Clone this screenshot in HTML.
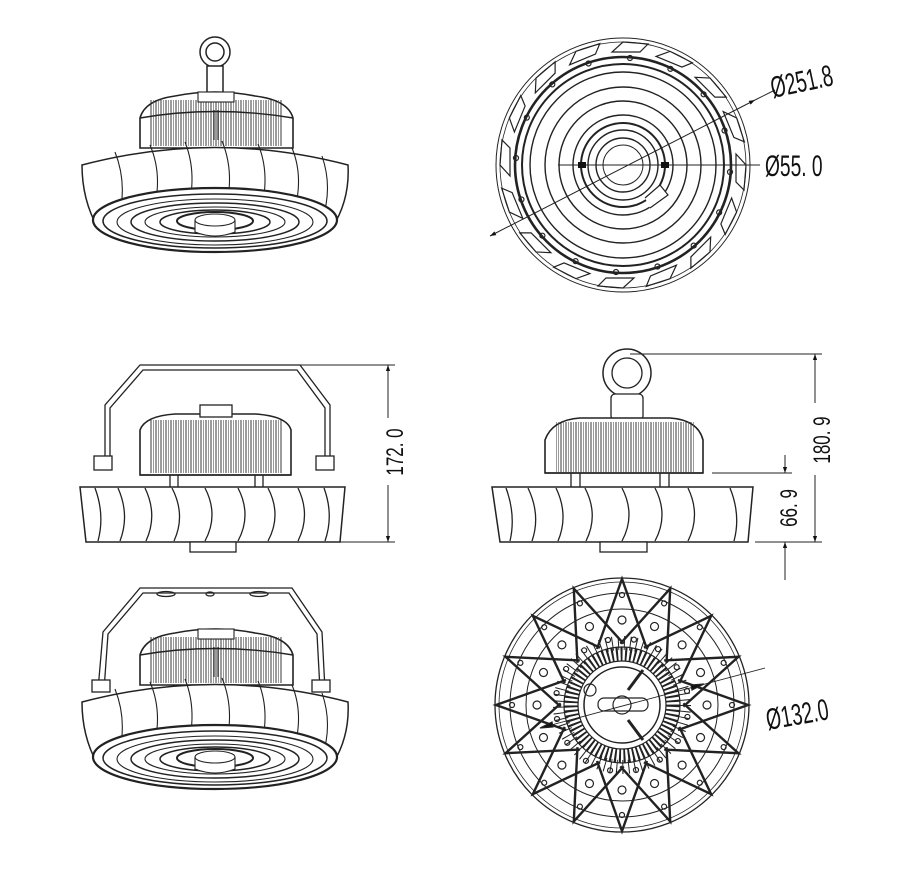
<!DOCTYPE html>
<html><head><meta charset="utf-8"><style>
html,body{margin:0;padding:0;background:#fff;}
svg{display:block;}
text{font-family:"Liberation Sans",sans-serif;fill:#111;}
</style></head><body>
<svg width="900" height="886" viewBox="0 0 900 886" xmlns="http://www.w3.org/2000/svg">
<defs>
<pattern id="fins" width="5" height="10" patternUnits="userSpaceOnUse">
<line x1="1" y1="0" x2="1" y2="10" stroke="#222" stroke-width="0.9"/>
<line x1="3.5" y1="0" x2="3.5" y2="10" stroke="#555" stroke-width="0.6"/>
</pattern>
<marker id="ar" viewBox="0 0 10 10" refX="10" refY="5" markerWidth="9" markerHeight="6" orient="auto-start-reverse" markerUnits="userSpaceOnUse"><path d="M0,1.5 L10,5 L0,8.5z" fill="#111"/></marker>

<g id="persp" fill="none" stroke="#222" stroke-width="1.1">
  <path d="M140,148 L140,118 Q145,100 175,96 Q215,88 255,96 Q288,100 293,118 L293,148 Z" fill="#fff" stroke-width="1.6"/>
  <rect x="150" y="100" width="133" height="46" fill="url(#fins)" stroke="none"/>
  <path d="M140,118 Q215,105 293,118" stroke-width="1.4"/>
  <rect x="198" y="92" width="36" height="10" fill="#fff"/>
  <line x1="214" y1="110" x2="214" y2="140"/><line x1="218" y1="110" x2="218" y2="140"/>
  <path d="M82,165 Q215,130 348,165 Q350,200 332,228 Q215,258 98,228 Q82,200 82,165 Z" fill="#fff" stroke-width="1.5"/>
  <path d="M115,152 Q128,185 118,220"/><path d="M150,145 Q165,180 150,222"/><path d="M185,142 Q200,180 183,225"/>
  <path d="M222,141 Q238,180 220,227"/><path d="M258,144 Q273,180 256,226"/><path d="M292,148 Q306,182 290,224"/>
  <path d="M322,156 Q333,188 322,220"/>
  <ellipse cx="215" cy="220" rx="122" ry="32" fill="#fff" stroke-width="2.2"/>
  <ellipse cx="215" cy="221" rx="112" ry="27" stroke-width="1.5"/>
  <ellipse cx="215" cy="222" rx="98" ry="23"/>
  <ellipse cx="215" cy="222" rx="84" ry="19" stroke-width="1.5"/>
  <ellipse cx="215" cy="222" rx="70" ry="15"/>
  <ellipse cx="215" cy="222" rx="55" ry="12" stroke-width="1.5"/>
  <ellipse cx="215" cy="221" rx="38" ry="9" stroke-width="2"/>
  <path d="M195,220 L195,232 Q215,240 235,232 L235,220" fill="#fff"/>
  <ellipse cx="215" cy="220" rx="20" ry="6" fill="#fff"/>
</g>
</defs>

<g fill="none" stroke="#222" stroke-width="1.5">
  <circle cx="215" cy="52" r="15"/><circle cx="215" cy="52" r="9"/>
  <rect x="207" y="66" width="16" height="28" fill="#fff"/>
</g>
<use href="#persp"/>

<g fill="none" stroke="#222" stroke-width="1.3">
  <path d="M98,690 L103,632 L140,588 L292,588 L322,632 L325,690"/>
  <path d="M104,690 L108,634 L143,593 L289,593 L317,634 L320,690"/>
  <ellipse cx="166" cy="594" rx="9" ry="2.5"/><ellipse cx="210" cy="594" rx="4" ry="2"/><ellipse cx="259" cy="594" rx="9" ry="2.5"/>
  <rect x="92" y="680" width="18" height="12" fill="#fff"/><rect x="312" y="680" width="18" height="12" fill="#fff"/>
</g>
<use href="#persp" transform="translate(0,537)"/>

<g fill="none" stroke="#222" stroke-width="1.3">
  <path d="M105,470 L105,405 L140,365 L300,365 L330,405 L330,470"/>
  <path d="M110,470 L110,408 L143,370 L297,370 L325,408 L325,470"/>
  <rect x="94" y="456" width="18" height="14" fill="#fff"/><rect x="316" y="456" width="18" height="14" fill="#fff"/>
  <path d="M140,475 L140,430 Q145,416 175,414 L255,414 Q287,416 291,430 L291,475 Z" fill="#fff" stroke-width="1.6"/>
  <rect x="150" y="420" width="132" height="53" fill="url(#fins)" stroke="none"/>
  <rect x="200" y="405" width="32" height="12" fill="#fff"/>
  <line x1="140" y1="475" x2="291" y2="475" stroke-width="1.6"/>
  <line x1="170" y1="475" x2="170" y2="487"/><line x1="178" y1="475" x2="178" y2="487"/>
  <line x1="255" y1="475" x2="255" y2="487"/><line x1="263" y1="475" x2="263" y2="487"/>
  <path d="M80,487 L345,487 L340,542 L86,542 Z" fill="#fff" stroke-width="1.5"/>
  <path d="M95,488 Q105,515 98,541"/><path d="M118,488 Q130,515 120,541"/><path d="M145,488 Q158,515 146,541"/>
  <path d="M172,488 Q186,515 174,541"/><path d="M205,488 Q219,515 205,541"/><path d="M238,488 Q252,515 238,541"/>
  <path d="M268,488 Q282,515 268,541"/><path d="M298,488 Q311,515 298,541"/><path d="M324,488 Q334,515 325,541"/>
  <rect x="190" y="542" width="46" height="10" fill="#fff"/>
  <line x1="300" y1="365" x2="395" y2="365" stroke-width="0.9"/>
  <line x1="340" y1="542" x2="395" y2="542" stroke-width="0.9"/>
  <line x1="388" y1="365" x2="388" y2="418" stroke-width="1" marker-start="url(#ar)"/>
  <line x1="388" y1="485" x2="388" y2="542" stroke-width="1" marker-end="url(#ar)"/>
</g>
<text transform="translate(403,452) rotate(-90) scale(0.85,1.2)" font-size="20" text-anchor="middle">172. 0</text>

<g fill="none" stroke="#222" stroke-width="1.3">
  <circle cx="627" cy="373" r="24" stroke-width="1.5"/><circle cx="627" cy="373" r="15"/>
  <rect x="611" y="394" width="32" height="26" rx="4" fill="#fff"/>
  <path d="M545,473 L545,440 Q552,420 580,418 L670,418 Q698,420 703,440 L703,473 Z" fill="#fff" stroke-width="1.6"/>
  <rect x="556" y="422" width="138" height="50" fill="url(#fins)" stroke="none"/>
  <line x1="545" y1="473" x2="703" y2="473" stroke-width="1.6"/>
  <line x1="571" y1="473" x2="571" y2="487"/><line x1="580" y1="473" x2="580" y2="487"/>
  <line x1="660" y1="473" x2="660" y2="487"/><line x1="669" y1="473" x2="669" y2="487"/>
  <path d="M492,487 L753,487 L748,542 L500,542 Z" fill="#fff" stroke-width="1.5"/>
  <path d="M506,488 Q516,515 510,541"/><path d="M528,488 Q541,515 532,541"/><path d="M556,488 Q569,515 558,541"/>
  <path d="M585,488 Q599,515 586,541"/><path d="M622,488 Q636,515 622,541"/><path d="M655,488 Q669,515 655,541"/>
  <path d="M688,488 Q701,515 688,541"/><path d="M730,488 Q741,515 734,541"/>
  <rect x="600" y="542" width="47" height="10" fill="#fff"/>
  <line x1="630" y1="354" x2="822" y2="354" stroke-width="0.9"/>
  <line x1="712" y1="473" x2="792" y2="473" stroke-width="0.9"/>
  <line x1="755" y1="542" x2="822" y2="542" stroke-width="0.9"/>
  <line x1="815" y1="354" x2="815" y2="403" stroke-width="1" marker-start="url(#ar)"/>
  <line x1="815" y1="475" x2="815" y2="542" stroke-width="1" marker-end="url(#ar)"/>
  <line x1="785" y1="455" x2="785" y2="473" stroke-width="1" marker-end="url(#ar)"/>
  <line x1="785" y1="580" x2="785" y2="542" stroke-width="1" marker-end="url(#ar)"/>
</g>
<text transform="translate(830,440) rotate(-90) scale(0.85,1.2)" font-size="20" text-anchor="middle">180. 9</text>
<text transform="translate(797,508) rotate(-90) scale(0.85,1.2)" font-size="20" text-anchor="middle">66. 9</text>

<g fill="none" stroke="#222" stroke-width="1.2">
  <circle cx="623" cy="165" r="127" stroke-width="1"/>
  <circle cx="623" cy="165" r="123" stroke-width="0.8"/>
  <g id="seg"><path d="M623,42 L648,44 L640,52 L612,52 Z" stroke-width="1.2"/><circle cx="630" cy="58" r="2.5"/></g>
  <use href="#seg" transform="rotate(22.5 623 165)"/><use href="#seg" transform="rotate(45 623 165)"/><use href="#seg" transform="rotate(67.5 623 165)"/>
  <use href="#seg" transform="rotate(90 623 165)"/><use href="#seg" transform="rotate(112.5 623 165)"/><use href="#seg" transform="rotate(135 623 165)"/>
  <use href="#seg" transform="rotate(157.5 623 165)"/><use href="#seg" transform="rotate(180 623 165)"/><use href="#seg" transform="rotate(202.5 623 165)"/>
  <use href="#seg" transform="rotate(225 623 165)"/><use href="#seg" transform="rotate(247.5 623 165)"/><use href="#seg" transform="rotate(270 623 165)"/>
  <use href="#seg" transform="rotate(292.5 623 165)"/><use href="#seg" transform="rotate(315 623 165)"/><use href="#seg" transform="rotate(337.5 623 165)"/>
  <circle cx="623" cy="165" r="108" stroke-width="2.6"/>
  <circle cx="623" cy="165" r="101" stroke-width="2"/>
  <circle cx="623" cy="165" r="93" stroke-width="1.4"/>
  <circle cx="623" cy="165" r="78" stroke-width="1.4"/>
  <circle cx="623" cy="165" r="64" stroke-width="1.4"/>
  <circle cx="623" cy="165" r="50" stroke-width="1.4"/>
  <circle cx="623" cy="165" r="42" stroke-width="2"/>
  <circle cx="623" cy="165" r="35" stroke-width="1.4"/>
  <circle cx="623" cy="165" r="27" stroke-width="1.4"/>
  <circle cx="623" cy="165" r="20" stroke-width="1"/>
  <path d="M645,198 L660,185 L668,195 L650,208" fill="#fff"/>
  <line x1="558" y1="165" x2="760" y2="165" stroke-width="1"/>
  <rect x="578" y="162" width="8" height="6" fill="#111" stroke="none"/><rect x="661" y="162" width="8" height="6" fill="#111" stroke="none"/>
  <line x1="490" y1="236" x2="755" y2="100" stroke-width="1" marker-start="url(#ar)" marker-end="url(#ar)"/>
  <line x1="755" y1="100" x2="775" y2="90" stroke-width="1"/>
</g>
<text transform="translate(773,98) rotate(-12) scale(0.8,1.25)" font-size="24">Ø251.8</text>
<text transform="translate(765,176) scale(0.8,1.25)" font-size="24">Ø55. 0</text>

<g fill="none" stroke="#222" stroke-width="1.2">
  <circle cx="622" cy="705" r="127" stroke-width="1.3"/>
  <circle cx="622" cy="705" r="123" stroke-width="0.8"/>
  <circle cx="622" cy="705" r="112" stroke-width="1"/>
  <circle cx="622" cy="705" r="96" stroke-width="1"/>
  <g id="spk"><path d="M597,649 L622,579 L647,649" stroke-width="2.4"/><circle cx="622" cy="620" r="4"/><circle cx="622" cy="595" r="2.5"/><circle cx="608" cy="640" r="2.5"/></g>
  <use href="#spk" transform="rotate(22.5 622 705)"/><use href="#spk" transform="rotate(45 622 705)"/><use href="#spk" transform="rotate(67.5 622 705)"/>
  <use href="#spk" transform="rotate(90 622 705)"/><use href="#spk" transform="rotate(112.5 622 705)"/><use href="#spk" transform="rotate(135 622 705)"/>
  <use href="#spk" transform="rotate(157.5 622 705)"/><use href="#spk" transform="rotate(180 622 705)"/><use href="#spk" transform="rotate(202.5 622 705)"/>
  <use href="#spk" transform="rotate(225 622 705)"/><use href="#spk" transform="rotate(247.5 622 705)"/><use href="#spk" transform="rotate(270 622 705)"/>
  <use href="#spk" transform="rotate(292.5 622 705)"/><use href="#spk" transform="rotate(315 622 705)"/><use href="#spk" transform="rotate(337.5 622 705)"/>
  <circle cx="622" cy="705" r="62" stroke="#222" stroke-width="14" stroke-dasharray="1 5"/>
  <circle cx="622" cy="705" r="51" stroke="#222" stroke-width="14" stroke-dasharray="2 2.5"/>
  <circle cx="622" cy="705" r="44" stroke-width="1.2"/>
  <circle cx="622" cy="705" r="58" stroke-width="1.2"/>
  <circle cx="622" cy="705" r="38" fill="#fff" stroke-width="1.5"/>
  <rect x="598" y="698" width="50" height="13" rx="6" fill="#fff"/>
  <circle cx="622" cy="705" r="9"/>
  <circle cx="590" cy="690" r="6"/>
  <line x1="628" y1="690" x2="643" y2="670" stroke-width="3"/>
  <line x1="628" y1="720" x2="643" y2="740" stroke-width="3"/>
  <line x1="540" y1="728" x2="765" y2="668" stroke-width="0.9"/>
  <path d="M540,728 L552,722 L553,727 Z" fill="#111"/><path d="M704,684 L692,690 L691,685 Z" fill="#111"/>
</g>
<text transform="translate(768,730) rotate(-10) scale(0.8,1.25)" font-size="24">Ø132.0</text>
</svg>
</body></html>
